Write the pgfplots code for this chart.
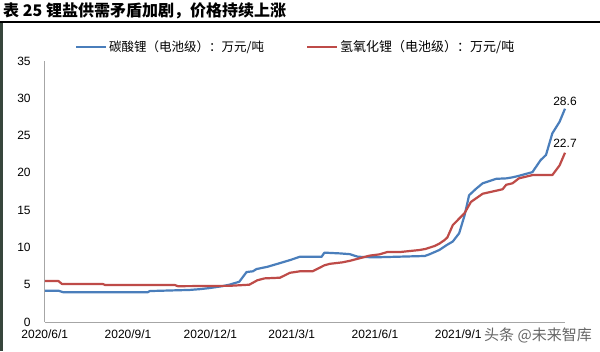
\documentclass[border=0pt]{standalone}
\usepackage{fontspec}
\setmainfont{Liberation Sans}
\newfontfamily\cjk{Noto Sans CJK SC}
\usepackage{pgfplots}
\pgfplotsset{compat=1.18}
\definecolor{cblue}{HTML}{4A7EBB}
\definecolor{cred}{HTML}{BE4B48}
\definecolor{axgray}{HTML}{A6A6A6}
\definecolor{strip}{RGB}{55,70,60}
\begin{document}
\begin{tikzpicture}
\path[use as bounding box, fill=white] (0pt,0pt) rectangle (600pt,351pt);
% left dark strip and title rule
\fill[strip] (0pt,0pt) rectangle (2.5pt,329pt);
\draw[black, line width=1.3pt] (0pt,329pt) -- (600pt,329pt);
\node[anchor=west, inner sep=0pt] at (3pt,340pt) {\cjk\bfseries\fontsize{16}{16}\selectfont 表 25 锂盐供需矛盾加剧，价格持续上涨};
% legend
\draw[cblue, line width=2.2pt] (76pt,304pt) -- (106pt,304pt);
\node[anchor=west, inner sep=0pt] at (109pt,304pt) {\cjk\fontsize{12.5}{12.5}\selectfont 碳酸锂（电池级）：万元/吨};
\draw[cred, line width=2.2pt] (307pt,304pt) -- (337pt,304pt);
\node[anchor=west, inner sep=0pt] at (340pt,304pt) {\cjk\fontsize{13}{13}\selectfont 氢氧化锂（电池级）：万元/吨};
\begin{axis}[
  at={(44.8pt,29pt)}, anchor=south west,
  scale only axis, width=520.2pt, height=261pt,
  xmin=0, xmax=575, ymin=0, ymax=35,
  axis x line*=bottom, axis y line*=left,
  axis line style={axgray, line width=0.8pt, -},
  major tick length=0pt,
  ytick={0,5,10,15,20,25,30,35},
  xtick={0,92,183,273,365,457},
  xticklabels={2020/6/1,2020/9/1,2020/12/1,2021/3/1,2021/6/1,2021/9/1},
  tick label style={font=\fontsize{12}{12}\selectfont, black},
  /pgf/number format/assume math mode=true,
  yticklabel style={inner sep=0pt, anchor=east, xshift=-14pt},
  xticklabel style={inner sep=0pt, anchor=north, yshift=-8pt},
  clip=false,
]
\addplot[cblue, line width=2.2pt, line join=round] coordinates {
(0,4.2) (15,4.2) (20,4.0) (114,4.0) (116,4.15) (160,4.3) (171,4.4) (182,4.55) (196,4.8) (204,5.0) (215,5.4) (223,6.7) (230,6.8) (234,7.1) (246,7.4) (260,7.9) (271,8.3) (282,8.75) (306,8.75) (309,9.3) (326,9.2) (337,9.1) (346,8.75) (364,8.67) (420,8.85) (425,9.07) (436,9.65) (444,10.3) (451,10.8) (458,11.9) (464,14.3) (469,17.0) (477,17.9) (484,18.6) (499,19.2) (510,19.26) (517,19.4) (524,19.6) (539,20.1) (548,21.7) (554,22.4) (561,25.3) (569,26.85) (575,28.6)
};
\addplot[cred, line width=2.2pt, line join=round] coordinates {
(0,5.5) (15,5.5) (19,5.1) (64,5.1) (67,4.95) (144,4.95) (147,4.8) (204,4.85) (226,5.0) (235,5.6) (243,5.85) (260,5.94) (271,6.6) (282,6.8) (296,6.8) (309,7.6) (315,7.8) (329,8.0) (337,8.2) (345,8.45) (359,8.9) (370,9.07) (379,9.4) (394,9.4) (414,9.65) (421,9.8) (431,10.2) (436,10.5) (442,11.0) (445,11.35) (451,13.0) (464,14.6) (471,16.1) (484,17.2) (506,17.8) (510,18.4) (517,18.6) (524,19.26) (539,19.7) (561,19.7) (569,21.0) (575,22.7)
};
\node[anchor=south, inner sep=0pt, font=\fontsize{12}{12}\selectfont] at (axis cs:575,28.6) [yshift=3pt] {28.6};
\node[anchor=south, inner sep=0pt, font=\fontsize{12}{12}\selectfont] at (axis cs:575,22.7) [yshift=5pt] {22.7};
\end{axis}
% watermark
\node[anchor=west, inner sep=0pt, text={rgb,255:red,85;green,85;blue,85}, opacity=0.9] at (484pt,16pt) {\cjk\fontsize{15}{15}\selectfont 头条 @未来智库};
\end{tikzpicture}
\end{document}
